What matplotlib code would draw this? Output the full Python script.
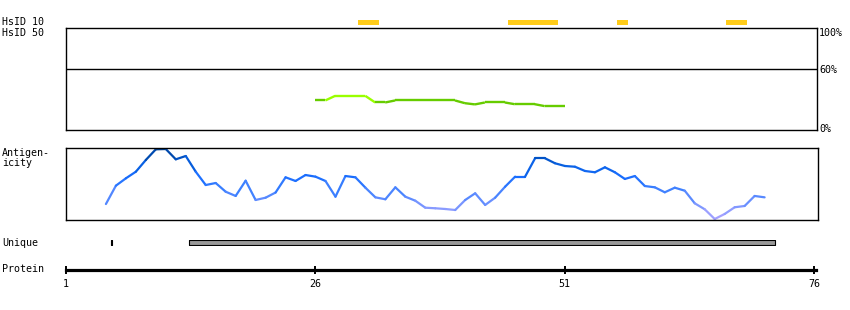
import numpy as np
import matplotlib
matplotlib.use("Agg")
import matplotlib.pyplot as plt
from matplotlib.collections import LineCollection
from matplotlib.colors import LinearSegmentedColormap
import matplotlib.transforms as mtransforms

# ---------------- data ----------------
protein_ticks = [1, 26, 51, 76]
protein_len = 76.3

hsid10_regions = [(30.3, 32.4), (45.3, 50.3), (56.25, 57.35), (67.2, 69.3)]

hsid50_res = list(range(26, 52))
hsid50_pct = [28.7, 28.7, 33.3, 33.3, 33.3, 33.3, 26.7, 26.7, 28.7, 28.7,
              28.7, 28.7, 28.7, 28.7, 28.7, 26.0, 24.8, 26.7, 26.7, 26.7,
              25.0, 25.0, 25.0, 23.1, 23.1, 23.1]
hsid50_levels = [0, 60, 100]
hsid50_labels = ["0%", "60%", "100%"]

antigen_res = list(range(5, 72))
antigen_val = [0.226, 0.481, 0.583, 0.675, 0.838, 0.986, 0.990, 0.847, 0.893, 0.675,
               0.490, 0.518, 0.397, 0.338, 0.550, 0.282, 0.314, 0.386, 0.597, 0.546,
               0.629, 0.606, 0.546, 0.328, 0.615, 0.597, 0.453, 0.319, 0.292, 0.458,
               0.328, 0.272, 0.175, 0.167, 0.157, 0.143, 0.282, 0.375, 0.213, 0.314,
               0.467, 0.606, 0.606, 0.861, 0.861, 0.792, 0.754, 0.744, 0.685, 0.667,
               0.736, 0.667, 0.574, 0.615, 0.476, 0.458, 0.389, 0.453, 0.411, 0.236,
               0.153, 0.018, 0.088, 0.181, 0.199, 0.338, 0.319]

unique_regions = [(5.5, 0.12), (13.35, 58.75)]

# ---------------- figure ----------------
W, H = 850, 310
fig = plt.figure(figsize=(W / 100, H / 100), dpi=100)
FONT = dict(family="DejaVu Sans Mono", fontsize=7.2, color="black")


def px_axes(x0, y0, x1, y1):
    return fig.add_axes([x0 / W, 1 - y1 / H, (x1 - x0) / W, (y1 - y0) / H])


def ftext(x, y, s, **kw):
    fig.text(x / W, 1 - y / H, s, va="center", ha="left", **FONT, **kw)


# HsID 10 bars
ax10 = px_axes(66, 20, 817, 25)
ax10.set_xlim(1, protein_len)
ax10.set_ylim(0, 1)
ax10.broken_barh([(s, e - s) for s, e in hsid10_regions], (0, 1), facecolors="#ffcc1a")
ax10.axis("off")

# HsID 50 panel
ax50 = px_axes(66, 28.3, 817, 129.5)
ax50.set_xlim(1, protein_len)
ax50.set_ylim(0, 100)
ax50.set_xticks([])
ax50.set_yticks([])
for sp in ax50.spines.values():
    sp.set_linewidth(1.0)
ax50.axhline(60, color="black", lw=1.0)
pts = np.column_stack([hsid50_res, hsid50_pct])
segs = np.stack([pts[:-1], pts[1:]], axis=1)
means = (np.array(hsid50_pct[:-1]) + np.array(hsid50_pct[1:])) / 2
gcols = ["#99ff00" if m >= 30 else "#66cc00" for m in means]
ax50.add_collection(LineCollection(segs, colors=gcols, linewidths=1.7, capstyle="butt"))
trans = mtransforms.blended_transform_factory(ax50.transAxes, ax50.transData)
offsets = [0.5, -1.0, 0.0]
for lv, lb, va, off in zip(hsid50_levels, hsid50_labels, ["center", "center", "top"], offsets):
    ax50.text(1.003, lv + off, lb, transform=trans, va=va, ha="left", **FONT)

# Antigenicity panel
axa = px_axes(66, 148.3, 817.5, 220.3)
axa.set_xlim(1, protein_len)
axa.set_ylim(0, 1)
axa.set_xticks([])
axa.set_yticks([])
for sp in axa.spines.values():
    sp.set_linewidth(1.0)
cmap = LinearSegmentedColormap.from_list(
    "ant",
    [(0.0, "#b0a4ff"), (0.15, "#8c9cff"), (0.3, "#5f8cff"), (0.45, "#3a7fff"),
     (0.6, "#1a6eff"), (0.75, "#0a62e6"), (0.88, "#0050c0"), (1.0, "#003d8a")])
apts = np.column_stack([antigen_res, antigen_val])
asegs = np.stack([apts[:-1], apts[1:]], axis=1)
amean = (np.array(antigen_val[:-1]) + np.array(antigen_val[1:])) / 2
axa.add_collection(LineCollection(asegs, colors=cmap(amean), linewidths=1.6, capstyle="round"))

# Unique row
axu = px_axes(66, 240, 817, 245)
axu.set_xlim(1, protein_len)
axu.set_ylim(0, 1)
axu.broken_barh([unique_regions[1]], (0, 1), facecolors="#999999", edgecolors="black", linewidth=0.8)
axu.broken_barh([unique_regions[0]], (0, 1), facecolors="black", edgecolors="black", linewidth=0.8)
axu.axis("off")

# Protein axis
axp = px_axes(66, 255, 817, 269.5)
axp.set_xlim(1, protein_len)
axp.set_ylim(0, 1)
for k in ["top", "left", "right"]:
    axp.spines[k].set_visible(False)
axp.spines["bottom"].set_linewidth(2.3)
axp.spines["bottom"].set_bounds(1, 76.2)
axp.set_yticks([])
axp.set_xticks(protein_ticks)
axp.set_xticklabels([str(t) for t in protein_ticks], family="DejaVu Sans Mono", fontsize=7.2)
axp.tick_params(axis="x", direction="inout", length=6, width=1.4, pad=3.5)
axp.patch.set_alpha(0)

# Left labels
ftext(2, 22, "HsID 10")
ftext(2, 32.5, "HsID 50")
ftext(2, 152.5, "Antigen-")
ftext(2, 162.5, "icity")
ftext(2, 242.5, "Unique")
ftext(2, 268.5, "Protein")

fig.savefig("out.png", dpi=100)
